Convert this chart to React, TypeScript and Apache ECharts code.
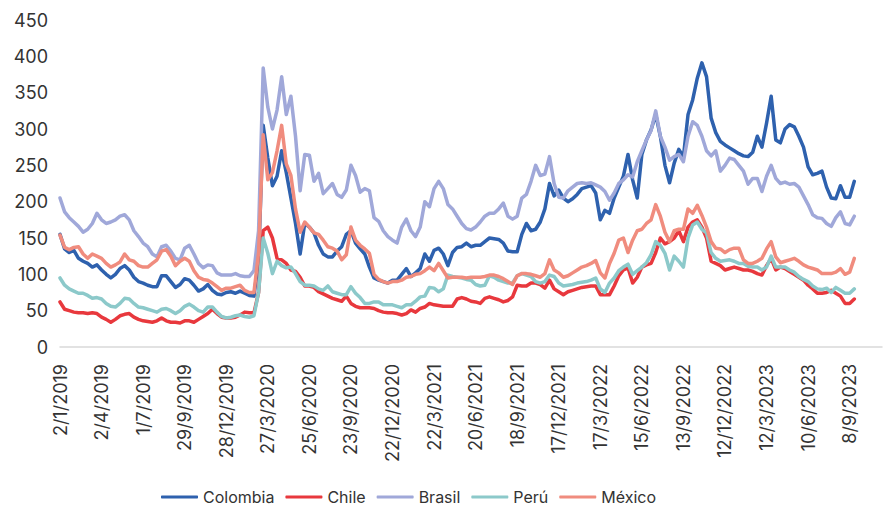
import React, { useEffect, useRef } from "react";
import * as echarts from "echarts";

// Observations every 10 days starting 2/1/2019 (day offsets from the start date)
const START_YEAR = 2019;
const START_MONTH = 0;
const START_DAY = 2;
const STEP_DAYS = 10;

const seriesNames = ["Colombia", "Chile", "Brasil", "Perú", "México"];
const seriesColors = ["#2E61AE", "#E8383D", "#A0A8D9", "#8CC9CA", "#F08C7E"];

const colombia = [
  155, 135, 130, 133, 122, 118, 115, 110, 113,
  106, 100, 95, 100, 108, 112, 106, 96, 90,
  88, 85, 83, 83, 98, 98, 90, 82, 86,
  94, 92, 85, 77, 80, 86, 78, 73, 72,
  75, 76, 74, 77, 74, 71, 70, 120, 305,
  260, 222, 235, 270, 240, 205, 170, 128, 170,
  165, 157, 140, 128, 124, 124, 132, 138, 155,
  160, 143, 135, 128, 110, 95, 92, 90, 88,
  92, 92, 100, 108, 97, 102, 108, 128, 118,
  133, 136, 128, 112, 130, 137, 138, 143, 138,
  140, 140, 145, 150, 149, 148, 143, 132, 131,
  131, 155, 170, 160, 162, 172, 190, 225, 208,
  216, 205, 200, 204, 210, 218, 220, 222, 212,
  175, 188, 184, 205, 220, 235, 265, 230, 205,
  265, 285, 299, 320, 290, 250, 226, 253, 272,
  262, 320, 340, 370, 391, 372, 315, 295, 283,
  278, 274, 270, 266, 263, 262, 268, 290, 275,
  308, 345, 285, 281, 300, 306, 303, 290, 275,
  248, 237, 239, 242, 220, 205, 204, 222, 206,
  206, 228,
];

const chile = [
  62, 52, 50, 48, 47, 47, 46, 47, 46,
  41, 38, 34, 38, 43, 45, 46, 41, 38,
  36, 35, 34, 36, 40, 36, 34, 34, 33,
  36, 36, 34, 38, 42, 46, 52, 46, 41,
  40, 40, 41, 44, 48, 47, 47, 75, 160,
  165, 150, 122, 120, 115, 106, 104, 96, 84,
  84, 82, 76, 73, 70, 67, 65, 63, 70,
  60, 56, 54, 54, 54, 53, 50, 48, 47,
  47, 46, 44, 46, 51, 48, 53, 55, 60,
  58, 57, 56, 56, 56, 66, 68, 66, 63,
  62, 60, 67, 69, 67, 65, 62, 64, 69,
  85, 84, 84, 88, 88, 86, 81, 92, 80,
  76, 72, 76, 78, 80, 82, 83, 84, 84,
  72, 72, 72, 84, 98, 106, 109, 88, 96,
  110, 113, 115, 130, 150, 142, 145, 150, 160,
  145, 165, 172, 175, 165, 150, 118, 115, 112,
  106, 108, 110, 108, 106, 106, 104, 101, 99,
  112, 122, 106, 110, 108, 104, 100, 96, 92,
  85, 80, 74, 74, 75, 78, 74, 70, 60,
  60, 66,
];

const brasil = [
  205, 186, 178, 172, 166, 158, 162, 170, 184,
  175, 170, 172, 175, 180, 182, 175, 160, 152,
  143, 138, 128, 124, 138, 140, 132, 122, 120,
  136, 140, 128, 115, 109, 113, 112, 102, 99,
  99, 99, 101, 98, 97, 97, 105, 160, 384,
  330, 300, 326, 372, 320, 345, 290, 215, 265,
  264, 228, 239, 211, 218, 225, 210, 206, 216,
  250, 236, 213, 218, 215, 178, 173, 160, 152,
  147, 143, 165, 176, 160, 152, 165, 200, 193,
  218, 228, 218, 196, 190, 180, 170, 163, 161,
  165, 172, 180, 184, 184, 190, 198, 180, 176,
  180, 205, 210, 228, 250, 236, 238, 262, 225,
  206, 205, 215, 220, 225, 226, 225, 226, 223,
  220, 214, 202, 212, 225, 230, 237, 234, 255,
  270, 285, 298, 325, 290, 275, 257, 262, 265,
  255, 290, 310, 305, 290, 270, 263, 270, 242,
  250, 260, 258, 250, 242, 224, 232, 232, 214,
  235, 250, 232, 225, 227, 224, 225, 220, 208,
  196, 182, 178, 177, 170, 166, 178, 186, 170,
  168, 180,
];

const peru = [
  95, 85, 80, 77, 74, 74, 71, 67, 68,
  66, 60, 56, 55, 60, 67, 66, 60, 55,
  54, 52, 50, 48, 52, 53, 50, 46, 50,
  56, 59, 55, 50, 48, 55, 55, 48, 42,
  40, 41, 43, 44, 42, 41, 43, 75, 150,
  129, 101, 118, 112, 109, 110, 101, 90, 85,
  85, 84, 80, 78, 84, 76, 74, 72, 72,
  83, 74, 68, 60, 60, 62, 62, 58, 58,
  58, 56, 54, 58, 58, 63, 69, 70, 82,
  81, 76, 80, 99, 97, 96, 95, 93, 92,
  86, 84, 85, 98, 96, 92, 90, 88, 88,
  98, 101, 99, 97, 90, 88, 90, 99, 97,
  88, 84, 85, 86, 88, 89, 90, 92, 95,
  80, 75, 88, 95, 105, 110, 114, 100, 105,
  110, 116, 127, 145, 140, 129, 106, 125, 118,
  110, 150, 168, 172, 162, 157, 130, 122, 118,
  119, 120, 118, 115, 115, 111, 110, 110, 106,
  110, 125, 110, 110, 110, 106, 103, 97, 93,
  90, 84, 80, 79, 81, 75, 82, 78, 74,
  74, 80,
];

const mexico = [
  154, 137, 134, 137, 138, 128, 122, 128, 125,
  122, 115, 110, 113, 117, 128, 120, 118, 112,
  110, 110, 115, 120, 132, 134, 125, 112, 118,
  122, 118, 105, 96, 93, 92, 88, 83, 78,
  81, 81, 83, 85, 78, 75, 75, 130, 292,
  230, 240, 270, 305, 252, 236, 190, 158, 172,
  165, 157, 155, 147, 138, 136, 132, 120, 127,
  165, 147, 140, 135, 129, 100, 93, 90, 88,
  90, 90, 92, 96, 97, 100, 101, 105, 110,
  105, 115, 105, 95, 96, 96, 96, 95, 96,
  96, 96, 97, 99, 99, 97, 94, 90, 86,
  98, 101, 101, 100, 98, 96, 101, 120, 106,
  102, 96, 98, 102, 106, 110, 112, 115, 119,
  102, 95, 115, 129, 147, 150, 130, 147, 160,
  162, 170, 175, 196, 180, 158, 145, 160, 162,
  162, 190, 184, 195, 181, 165, 145, 136, 135,
  130, 134, 136, 136, 120, 115, 115, 118, 122,
  135, 145, 124, 116, 118, 120, 122, 118, 113,
  110, 108, 106, 101, 101, 101, 103, 108, 100,
  103, 122,
];

const seriesValues = [colombia, chile, brasil, peru, mexico];

const X_MAX_DAYS = 1780;
const X_TICK_DAYS = 90;
const Y_MAX = 450;
const Y_TICK = 50;

const FONT = "Inter, 'Noto Sans', sans-serif";
const TEXT_COLOR = "#333333";

function dayLabel(offset: number): string {
  const dt = new Date(START_YEAR, START_MONTH, START_DAY + offset);
  return `${dt.getDate()}/${dt.getMonth() + 1}/${dt.getFullYear()}`;
}

export default function App() {
  const ref = useRef<HTMLDivElement>(null);

  useEffect(() => {
    document.body.style.margin = "0";
    if (!ref.current) return;
    const chart = echarts.init(ref.current, undefined, { renderer: "svg" });

    const series = seriesNames.map((name, i) => ({
      name,
      type: "line",
      showSymbol: false,
      symbol: "none",
      data: seriesValues[i].map((v, k) => [k * STEP_DAYS, v]),
      lineStyle: { width: 3.5, color: seriesColors[i], join: "round", cap: "round" },
      itemStyle: { color: seriesColors[i] },
      emphasis: { disabled: true },
    }));

    chart.setOption({
      animation: false,
      grid: { left: 60, right: 3, top: 20, bottom: 159, containLabel: false },
      legend: {
        data: seriesNames,
        left: 156,
        top: 484,
        icon: "roundRect",
        itemWidth: 37,
        itemHeight: 3,
        itemGap: 11,
        textStyle: { fontFamily: FONT, fontSize: 16, color: TEXT_COLOR },
      },
      xAxis: {
        type: "value",
        min: 0,
        max: X_MAX_DAYS,
        interval: X_TICK_DAYS,
        axisLine: { show: true, lineStyle: { color: "#D9D9D9", width: 1.5 } },
        axisTick: { show: false },
        splitLine: { show: false },
        axisLabel: {
          rotate: 90,
          margin: 17,
          fontFamily: FONT,
          fontSize: 18,
          color: TEXT_COLOR,
          showMaxLabel: false,
          formatter: (v: number) => (v % X_TICK_DAYS === 0 ? dayLabel(v) : ""),
        },
      },
      yAxis: {
        type: "value",
        min: 0,
        max: Y_MAX,
        interval: Y_TICK,
        axisLine: { show: false },
        axisTick: { show: false },
        splitLine: { show: false },
        axisLabel: { margin: 12, fontFamily: FONT, fontSize: 18, color: TEXT_COLOR },
      },
      series,
    });

    return () => chart.dispose();
  }, []);

  return <div ref={ref} style={{ width: 885, height: 506 }} />;
}
